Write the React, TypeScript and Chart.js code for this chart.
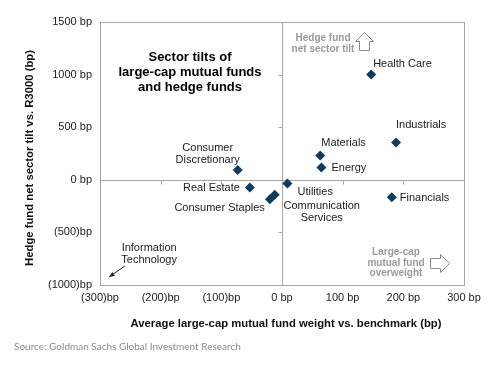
import React, { useEffect, useRef } from "react";
import { Chart, registerables } from "chart.js";

Chart.register(...registerables);

const sectors = [
  "Health Care",
  "Industrials",
  "Materials",
  "Energy",
  "Utilities",
  "Communication Services",
  "Financials",
  "Consumer Discretionary",
  "Real Estate",
  "Consumer Staples",
];
const mutualFundTilt = [147, 188, 63, 65, 9, -12, 181, -73, -53, -20];
const hedgeFundTilt = [1000, 355, 231, 117, -35, -143, -165, 92, -73, -184];

const xTicks = [-300, -200, -100, 0, 100, 200, 300];
const yTicks = [-1000, -500, 0, 500, 1000, 1500];

// label layout (pixel offsets from point), not data
const labelLayout: Record<string, { lines: string[]; dx: number; dy: number; align: CanvasTextAlign }> = {
  "Health Care": { lines: ["Health Care"], dx: 2, dy: -11, align: "left" },
  Industrials: { lines: ["Industrials"], dx: 0, dy: -17, align: "left" },
  Materials: { lines: ["Materials"], dx: 1, dy: -13, align: "left" },
  Energy: { lines: ["Energy"], dx: 10, dy: 0, align: "left" },
  Utilities: { lines: ["Utilities"], dx: 10, dy: 8, align: "left" },
  "Communication Services": { lines: ["Communication", "Services"], dx: 47, dy: 11, align: "center" },
  Financials: { lines: ["Financials"], dx: 8, dy: 1, align: "left" },
  "Consumer Discretionary": { lines: ["Consumer", "Discretionary"], dx: -30, dy: -22, align: "center" },
  "Real Estate": { lines: ["Real Estate"], dx: -10, dy: 0, align: "right" },
  "Consumer Staples": { lines: ["Consumer Staples"], dx: -5, dy: 9, align: "right" },
};

const fmt = (v: number) => (v < 0 ? `(${-v})bp` : `${v} bp`);

const drawPlugin = {
  id: "customDraw",
  beforeDatasetsDraw(chart: any) {
    const { ctx, chartArea: a, scales } = chart;
    const xs = scales.x;
    const ys = scales.y;
    ctx.save();
    ctx.strokeStyle = "#a6a6a6";
    ctx.lineWidth = 1;
    ctx.strokeRect(Math.round(a.left) + 0.5, Math.round(a.top) + 0.5, Math.round(a.right - a.left), Math.round(a.bottom - a.top));
    const x0 = Math.round(xs.getPixelForValue(0)) + 0.5;
    const y0 = Math.round(ys.getPixelForValue(0)) + 0.5;
    ctx.beginPath();
    ctx.moveTo(x0, a.top);
    ctx.lineTo(x0, a.bottom);
    ctx.moveTo(a.left, y0);
    ctx.lineTo(a.right, y0);
    for (const t of xTicks) {
      if (t === 0 || t === -300 || t === 300) continue;
      const px = Math.round(xs.getPixelForValue(t)) + 0.5;
      ctx.moveTo(px, y0);
      ctx.lineTo(px, y0 + 4);
    }
    for (const t of yTicks) {
      if (t === 0 || t === -1000 || t === 1500) continue;
      const py = Math.round(ys.getPixelForValue(t)) + 0.5;
      ctx.moveTo(x0, py);
      ctx.lineTo(x0 - 4, py);
    }
    ctx.stroke();
    ctx.restore();
  },
  afterDatasetsDraw(chart: any) {
    const { ctx, scales } = chart;
    const xs = scales.x;
    const ys = scales.y;
    ctx.save();
    ctx.textBaseline = "middle";
    // point labels
    ctx.fillStyle = "#222";
    ctx.font = "11px 'Liberation Sans', Arial, sans-serif";
    sectors.forEach((s, i) => {
      const l = labelLayout[s];
      const px = xs.getPixelForValue(mutualFundTilt[i]);
      const py = ys.getPixelForValue(hedgeFundTilt[i]);
      ctx.textAlign = l.align;
      l.lines.forEach((ln, k) => ctx.fillText(ln, px + l.dx, py + l.dy + k * 12));
    });
    // Information Technology annotation (off-chart)
    ctx.textAlign = "center";
    const itx = xs.getPixelForValue(-219);
    const ity = ys.getPixelForValue(-645);
    ctx.fillText("Information", itx, ity);
    ctx.fillText("Technology", itx, ity + 12);
    const ax1 = xs.getPixelForValue(-259), ay1 = ys.getPixelForValue(-819);
    const ax2 = xs.getPixelForValue(-285), ay2 = ys.getPixelForValue(-924);
    ctx.strokeStyle = "#222";
    ctx.lineWidth = 1;
    ctx.beginPath();
    ctx.moveTo(ax1, ay1);
    ctx.lineTo(ax2, ay2);
    ctx.stroke();
    const ang = Math.atan2(ay2 - ay1, ax2 - ax1);
    ctx.beginPath();
    ctx.moveTo(ax2, ay2);
    ctx.lineTo(ax2 - 6 * Math.cos(ang - 0.4), ay2 - 6 * Math.sin(ang - 0.4));
    ctx.lineTo(ax2 - 6 * Math.cos(ang + 0.4), ay2 - 6 * Math.sin(ang + 0.4));
    ctx.closePath();
    ctx.fillStyle = "#222";
    ctx.fill();

    // chart title
    ctx.fillStyle = "#000";
    ctx.font = "bold 13px 'Liberation Sans', Arial, sans-serif";
    ctx.textAlign = "center";
    ctx.fillText("Sector tilts of", 190, 57);
    ctx.fillText("large-cap mutual funds", 190, 72);
    ctx.fillText("and hedge funds", 190, 87);

    // gray annotations
    ctx.fillStyle = "#9a9a9a";
    ctx.font = "bold 10px 'Liberation Sans', Arial, sans-serif";
    ctx.fillText("Hedge fund", 323, 38);
    ctx.fillText("net sector tilt", 323, 49);
    ctx.fillText("Large-cap", 396, 252);
    ctx.fillText("mutual fund", 396, 263);
    ctx.fillText("overweight", 396, 273);
    // up arrow outline
    ctx.strokeStyle = "#8a8a8a";
    ctx.lineWidth = 1;
    ctx.beginPath();
    ctx.moveTo(364.5, 32.5);
    ctx.lineTo(373.5, 41.5);
    ctx.lineTo(369.5, 41.5);
    ctx.lineTo(369.5, 50.5);
    ctx.lineTo(359.5, 50.5);
    ctx.lineTo(359.5, 41.5);
    ctx.lineTo(355.5, 41.5);
    ctx.closePath();
    ctx.stroke();
    // right arrow outline
    ctx.beginPath();
    ctx.moveTo(449.5, 263.5);
    ctx.lineTo(440.5, 254.5);
    ctx.lineTo(440.5, 258.5);
    ctx.lineTo(430.5, 258.5);
    ctx.lineTo(430.5, 268.5);
    ctx.lineTo(440.5, 268.5);
    ctx.lineTo(440.5, 272.5);
    ctx.closePath();
    ctx.stroke();

    // axis titles
    ctx.fillStyle = "#111";
    ctx.font = "bold 11.3px 'Liberation Sans', Arial, sans-serif";
    ctx.fillText("Average large-cap mutual fund weight vs. benchmark (bp)", 286, 324);
    ctx.save();
    ctx.translate(30, 158);
    ctx.rotate(-Math.PI / 2);
    ctx.fillText("Hedge fund net sector tilt vs. R3000 (bp)", 0, 0);
    ctx.restore();

    // source
    ctx.fillStyle = "#8c8c8c";
    ctx.font = "10px Lato, sans-serif";
    ctx.textAlign = "left";
    ctx.fillText("Source: Goldman Sachs Global Investment Research", 14, 347);
    ctx.restore();
  },
};

export default function App() {
  const ref = useRef<HTMLCanvasElement>(null);
  useEffect(() => {
    if (!ref.current) return;
    const chart = new Chart(ref.current, {
      type: "scatter",
      data: {
        datasets: [
          {
            data: sectors.map((s, i) => ({ x: mutualFundTilt[i], y: hedgeFundTilt[i] })),
            pointStyle: "rectRot",
            pointRadius: 5,
            backgroundColor: "#103a5e",
            borderColor: "#103a5e",
            borderWidth: 0,
          },
        ],
      },
      options: {
        responsive: false,
        animation: false,
        layout: { padding: { left: 0, top: 22, right: 36, bottom: 0 } },
        plugins: { legend: { display: false }, tooltip: { enabled: false } },
        scales: {
          x: {
            type: "linear",
            min: -300,
            max: 300,
            afterBuildTicks: (s: any) => {
              s.ticks = xTicks.map((v) => ({ value: v }));
            },
            afterFit: (s: any) => {
              s.height = 82;
            },
            grid: { display: false, drawTicks: false },
            border: { display: false },
            ticks: {
              padding: 6,
              color: "#222",
              font: { family: "'Liberation Sans', Arial, sans-serif", size: 11 },
              callback: (v: any) => fmt(Number(v)),
              maxRotation: 0,
              autoSkip: false,
            },
          },
          y: {
            type: "linear",
            min: -1000,
            max: 1500,
            afterBuildTicks: (s: any) => {
              s.ticks = yTicks.map((v) => ({ value: v }));
            },
            afterFit: (s: any) => {
              s.width = 100;
            },
            grid: { display: false, drawTicks: false },
            border: { display: false },
            ticks: {
              padding: 8,
              color: "#222",
              font: { family: "'Liberation Sans', Arial, sans-serif", size: 11 },
              callback: (v: any) => fmt(Number(v)),
              autoSkip: false,
            },
          },
        },
      },
      plugins: [drawPlugin],
    } as any);
    return () => chart.destroy();
  }, []);
  return (
    <div style={{ position: "absolute", left: 0, top: 0, width: 500, height: 367, background: "#fff" }}>
      <canvas ref={ref} width={500} height={367} />
    </div>
  );
}
